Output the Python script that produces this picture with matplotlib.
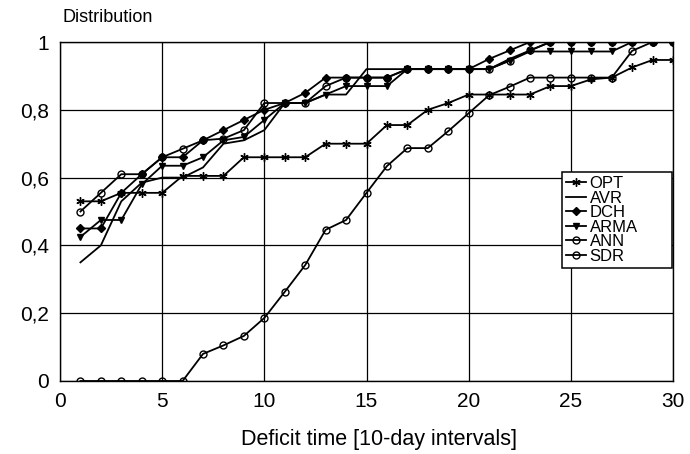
import matplotlib
matplotlib.use("Agg")
import matplotlib.pyplot as plt

plt.rcParams['font.family'] = ['Liberation Sans', 'DejaVu Sans']

# data
deficit_time = list(range(1, 31))

opt  = [0.53, 0.53, 0.555, 0.555, 0.555, 0.605, 0.605, 0.605, 0.66, 0.66,
        0.66, 0.66, 0.70, 0.70, 0.70, 0.755, 0.755, 0.80, 0.82, 0.845,
        0.845, 0.845, 0.845, 0.87, 0.87, 0.89, 0.895, 0.925, 0.947, 0.947]
avr  = [0.35, 0.40, 0.53, 0.585, 0.60, 0.60, 0.63, 0.70, 0.71, 0.74,
        0.82, 0.82, 0.845, 0.845, 0.92, 0.92, 0.92, 0.92, 0.92, 0.92,
        0.92, 0.95, 0.975, 1.0, 1.0, 1.0, 1.0, 1.0, 1.0, 1.0]
dch  = [0.45, 0.45, 0.555, 0.61, 0.66, 0.66, 0.71, 0.74, 0.77, 0.80,
        0.82, 0.85, 0.895, 0.895, 0.895, 0.895, 0.92, 0.92, 0.92, 0.92,
        0.95, 0.975, 1.0, 1.0, 1.0, 1.0, 1.0, 1.0, 1.0, 1.0]
arma = [0.425, 0.475, 0.475, 0.58, 0.635, 0.635, 0.66, 0.71, 0.72, 0.77,
        0.82, 0.82, 0.845, 0.87, 0.87, 0.87, 0.92, 0.92, 0.92, 0.92,
        0.92, 0.945, 0.972, 0.972, 0.972, 0.972, 0.972, 1.0, 1.0, 1.0]
ann  = [0.50, 0.555, 0.61, 0.61, 0.66, 0.685, 0.71, 0.715, 0.74, 0.82,
        0.82, 0.82, 0.87, 0.895, 0.895, 0.895, 0.92, 0.92, 0.92, 0.92,
        0.92, 0.945, 0.975, 1.0, 1.0, 1.0, 1.0, 1.0, 1.0, 1.0]
sdr  = [0.0, 0.0, 0.0, 0.0, 0.0, 0.0, 0.08, 0.105, 0.133, 0.186,
        0.263, 0.342, 0.446, 0.475, 0.555, 0.634, 0.687, 0.687, 0.737, 0.79,
        0.843, 0.868, 0.895, 0.895, 0.895, 0.895, 0.895, 0.974, 1.0, 1.0]

x_ticks = [0, 5, 10, 15, 20, 25, 30]
y_ticks = [0, 0.2, 0.4, 0.6, 0.8, 1.0]
y_tick_labels = ["0", "0,2", "0,4", "0,6", "0,8", "1"]

fig = plt.figure(figsize=(6.9, 4.54), dpi=100)
ax = fig.add_axes([60 / 690, 73 / 454, 613 / 690, 339 / 454])

lw = 1.3
ax.plot(deficit_time, opt, color="k", lw=lw, marker=(6, 2, 0), ms=6, mew=1.0, label="OPT")
ax.plot(deficit_time, avr, color="k", lw=lw, label="AVR")
ax.plot(deficit_time, dch, color="k", lw=lw, marker="D", ms=4, label="DCH")
ax.plot(deficit_time, arma, color="k", lw=lw, marker="v", ms=5, label="ARMA")
ax.plot(deficit_time, ann, color="k", lw=lw, marker="o", ms=5, mfc="none", mew=1.0, label="ANN")
ax.plot(deficit_time, sdr, color="k", lw=lw, marker="o", ms=5, mfc="none", mew=1.0, label="SDR")

ax.set_xlim(0, 30)
ax.set_ylim(0, 1)
ax.set_xticks(x_ticks)
ax.set_yticks(y_ticks)
ax.set_yticklabels(y_tick_labels)
ax.tick_params(length=0, labelsize=15, pad=8)
ax.grid(True, color="k", lw=0.9)
ax.set_axisbelow(True)
for sp in ax.spines.values():
    sp.set_color("k")
    sp.set_linewidth(1.0)

# wide legend box like the original (extra room on the right)
leg = ax.legend(loc="upper left", bbox_to_anchor=(0.819, 0.2, 0.179, 0.417),
                mode="expand", fontsize=12, frameon=True, fancybox=False,
                shadow=False, handlelength=1.2, handletextpad=0.2,
                borderpad=0.25, labelspacing=-0.03, borderaxespad=0.0)
leg.get_frame().set_edgecolor("k")
leg.get_frame().set_linewidth(1.1)
leg.get_frame().set_alpha(1.0)

fig.text(62 / 690, 1 - 18 / 454, "Distribution", fontsize=13, va="center", ha="left")
fig.text(379 / 690, 1 - 440 / 454, "Deficit time [10-day intervals]", fontsize=15.5,
         va="center", ha="center")

fig.savefig("out.png", dpi=100)
